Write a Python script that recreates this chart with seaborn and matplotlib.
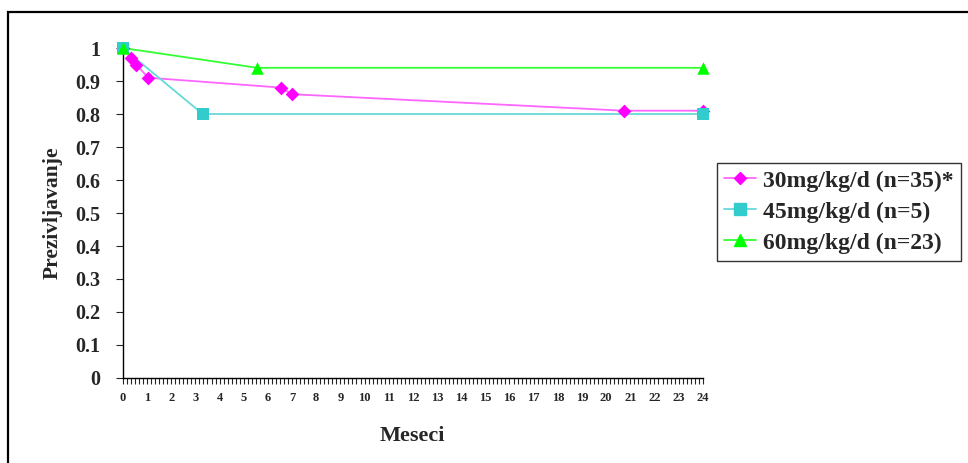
import matplotlib
matplotlib.use("Agg")
import matplotlib.pyplot as plt
from matplotlib.ticker import MultipleLocator, FixedLocator
from matplotlib.patches import Rectangle
import seaborn as sns
import pandas as pd

# Survival by dose group over months
months_30 = [0, 0.35, 0.55, 1.05, 6.55, 7.0, 20.75, 24]
surv_30 = [1.0, 0.97, 0.95, 0.91, 0.88, 0.86, 0.81, 0.81]
months_45 = [0, 3.3, 24]
surv_45 = [1.0, 0.80, 0.80]
months_60 = [0, 5.55, 24]
surv_60 = [1.0, 0.94, 0.94]

labels = ["30mg/kg/d (n=35)*", "45mg/kg/d (n=5)", "60mg/kg/d (n=23)"]
colors = ["#FF00FF", "#33CCCC", "#00FF00"]
line_colors = ["#FF66FF", "#66D9D9", "#33FF33"]
markers = ["D", "s", "^"]
marker_sizes = [7, 9, 9]

y_ticks = [0, 0.1, 0.2, 0.3, 0.4, 0.5, 0.6, 0.7, 0.8, 0.9, 1]
y_tick_labels = ["0", "0.1", "0.2", "0.3", "0.4", "0.5", "0.6", "0.7", "0.8", "0.9", "1"]
x_ticks = list(range(0, 25))

frames = []
for lab, xs, ys in zip(labels, [months_30, months_45, months_60],
                       [surv_30, surv_45, surv_60]):
    frames.append(pd.DataFrame({"Meseci": xs, "Prezivljavanje": ys, "grupa": lab}))
df = pd.concat(frames, ignore_index=True)

sns.set_style("ticks")
plt.rcParams["font.family"] = ["Liberation Serif", "DejaVu Serif"]
plt.rcParams["font.weight"] = "bold"

fig = plt.figure(figsize=(9.68, 4.63), dpi=100)
ax = fig.add_axes([0.127, 0.1836, 0.599, 0.7127])

# outer frame around the chart area
fig.patches.append(Rectangle((8 / 968, -0.1), 1.1, 1 - 12 / 463 + 0.1,
                             transform=fig.transFigure, fill=False,
                             edgecolor="black", linewidth=1.6))

for i, lab in enumerate(labels):
    sub = df[df["grupa"] == lab]
    sns.lineplot(data=sub, x="Meseci", y="Prezivljavanje", ax=ax,
                 color=line_colors[i], linewidth=1.3, legend=False,
                 estimator=None, sort=False)
    sns.scatterplot(data=sub, x="Meseci", y="Prezivljavanje", ax=ax,
                    color=colors[i], marker=markers[i], s=marker_sizes[i] ** 2,
                    linewidth=0, legend=False, clip_on=False, zorder=5)

ax.set_xlim(0, 24)
ax.set_ylim(0, 1)
ax.xaxis.set_major_locator(FixedLocator(x_ticks))
ax.xaxis.set_minor_locator(MultipleLocator(1 / 6))
ax.set_yticks(y_ticks)
ax.set_yticklabels(y_tick_labels)
ax.tick_params(axis="x", which="both", length=4, width=0.8, labelsize=9, pad=6)
ax.tick_params(axis="y", length=5, width=0.8, labelsize=14.5, pad=11)
for t in ax.get_xticklabels() + ax.get_yticklabels():
    t.set_fontweight("bold")
sns.despine(ax=ax)
for s in ["left", "bottom"]:
    ax.spines[s].set_color("black")
    ax.spines[s].set_linewidth(1.0)

ax.set_xlabel("Meseci", fontsize=16, fontweight="bold", labelpad=16)
ax.set_ylabel("Prezivljavanje", fontsize=15.5, fontweight="bold", labelpad=9)

handles = [plt.Line2D([], [], color=line_colors[i], marker=markers[i],
                      markerfacecolor=colors[i], markeredgecolor=colors[i],
                      markersize=marker_sizes[i] - 1, linewidth=1.3)
           for i in range(3)]
leg = fig.legend(handles, labels, loc="upper left",
                 bbox_to_anchor=(717 / 968, 1 - 163 / 463),
                 frameon=True, fancybox=False, edgecolor="black",
                 prop={"size": 17, "weight": "bold"},
                 handlelength=1.35, handletextpad=0.3, borderpad=0.3,
                 labelspacing=0.4, borderaxespad=0)
leg.get_frame().set_linewidth(1.0)

fig.savefig("out.png", dpi=100, facecolor="white")
